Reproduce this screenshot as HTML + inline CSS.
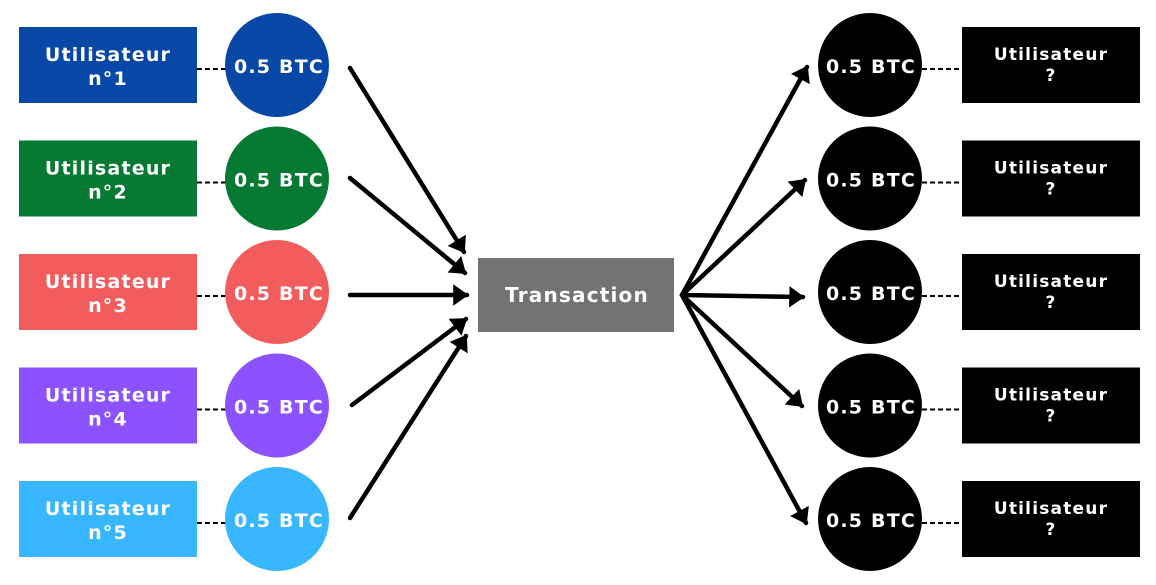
<!DOCTYPE html>
<html><head><meta charset="utf-8"><style>
body{margin:0;background:#fff;}
svg text{font-family:"DejaVu Sans","Liberation Sans",sans-serif;font-weight:bold;fill:#fff;letter-spacing:1.2px;}
</style></head><body>
<svg width="1156" height="580" viewBox="0 0 1156 580" xmlns="http://www.w3.org/2000/svg">
<defs>
<marker id="a" viewBox="0 0 10 14" refX="9" refY="7" markerWidth="3.4" markerHeight="4.8" orient="auto" markerUnits="strokeWidth">
<path d="M0,0 L10,7 L0,14 Z" fill="#000"/>
</marker>
</defs>
<g font-size="19">
<g>
<line x1="197" y1="69" x2="226" y2="69" stroke="#000" stroke-width="2" stroke-dasharray="5,3"/>
<rect x="19" y="27" width="178" height="76" fill="#0747a6"/>
<circle cx="277" cy="65" r="52" fill="#0747a6"/>
<text x="108" y="61" text-anchor="middle">Utilisateur</text><text x="108" y="85" text-anchor="middle">n°1</text>
<text x="279" y="73" text-anchor="middle">0.5 BTC</text>
</g>
<g transform="translate(0,113.5)">
<line x1="197" y1="69" x2="226" y2="69" stroke="#000" stroke-width="2" stroke-dasharray="5,3"/>
<rect x="19" y="27" width="178" height="76" fill="#067a33"/>
<circle cx="277" cy="65" r="52" fill="#067a33"/>
<text x="108" y="61" text-anchor="middle">Utilisateur</text><text x="108" y="85" text-anchor="middle">n°2</text>
<text x="279" y="73" text-anchor="middle">0.5 BTC</text>
</g>
<g transform="translate(0,227)">
<line x1="197" y1="69" x2="226" y2="69" stroke="#000" stroke-width="2" stroke-dasharray="5,3"/>
<rect x="19" y="27" width="178" height="76" fill="#f25c5c"/>
<circle cx="277" cy="65" r="52" fill="#f25c5c"/>
<text x="108" y="61" text-anchor="middle">Utilisateur</text><text x="108" y="85" text-anchor="middle">n°3</text>
<text x="279" y="73" text-anchor="middle">0.5 BTC</text>
</g>
<g transform="translate(0,340.5)">
<line x1="197" y1="69" x2="226" y2="69" stroke="#000" stroke-width="2" stroke-dasharray="5,3"/>
<rect x="19" y="27" width="178" height="76" fill="#8c52ff"/>
<circle cx="277" cy="65" r="52" fill="#8c52ff"/>
<text x="108" y="61" text-anchor="middle">Utilisateur</text><text x="108" y="85" text-anchor="middle">n°4</text>
<text x="279" y="73" text-anchor="middle">0.5 BTC</text>
</g>
<g transform="translate(0,454)">
<line x1="197" y1="69" x2="226" y2="69" stroke="#000" stroke-width="2" stroke-dasharray="5,3"/>
<rect x="19" y="27" width="178" height="76" fill="#38b6ff"/>
<circle cx="277" cy="65" r="52" fill="#38b6ff"/>
<text x="108" y="61" text-anchor="middle">Utilisateur</text><text x="108" y="85" text-anchor="middle">n°5</text>
<text x="279" y="73" text-anchor="middle">0.5 BTC</text>
</g>
<g id="r">
<line x1="922" y1="69" x2="962" y2="69" stroke="#000" stroke-width="2" stroke-dasharray="5,3"/>
<rect x="962" y="27" width="178" height="76" fill="#000"/>
<circle cx="870" cy="65" r="52" fill="#000"/>
<text x="1051" y="60" text-anchor="middle" font-size="17">Utilisateur</text><text x="1051" y="81" text-anchor="middle" font-size="17">?</text>
<text x="871" y="73" text-anchor="middle">0.5 BTC</text>
</g>
<use href="#r" transform="translate(0,113.5)"/>
<use href="#r" transform="translate(0,227)"/>
<use href="#r" transform="translate(0,340.5)"/>
<use href="#r" transform="translate(0,454)"/>
<rect x="478" y="258" width="196" height="74" fill="#737373"/>
<text x="577" y="302" text-anchor="middle" font-size="20">Transaction</text>
</g>
<g stroke="#000" stroke-width="4.5" fill="none" stroke-linecap="round" marker-end="url(#a)">
<line x1="350" y1="68" x2="464" y2="252"/>
<line x1="350" y1="178" x2="465" y2="273"/>
<line x1="350" y1="295" x2="467" y2="295"/>
<line x1="352" y1="405" x2="466" y2="319"/>
<line x1="350" y1="518" x2="466" y2="336"/>
<line x1="682" y1="295" x2="807" y2="67"/>
<line x1="682" y1="295" x2="805" y2="180"/>
<line x1="682" y1="295" x2="803" y2="297"/>
<line x1="682" y1="295" x2="802" y2="406"/>
<line x1="682" y1="295" x2="806" y2="523"/>
</g>
</svg>
</body></html>
